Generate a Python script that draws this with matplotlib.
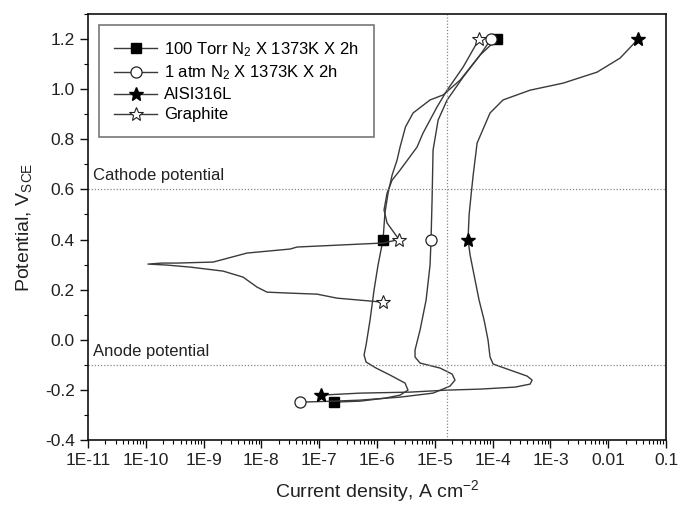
import matplotlib
matplotlib.use("Agg")
import matplotlib.pyplot as plt
from matplotlib.ticker import LogLocator, FixedLocator, MultipleLocator, NullFormatter

plt.rcParams['font.family'] = ['Liberation Sans', 'DejaVu Sans']
plt.rcParams['mathtext.fontset'] = 'custom'
plt.rcParams['mathtext.rm'] = 'Liberation Sans'
plt.rcParams['mathtext.it'] = 'Liberation Sans:italic'

# polarization curves, current density (A cm-2) vs potential (V SCE)
torr_i = [1.80e-7, 5.08e-7, 1.37e-6, 2.50e-6, 3.43e-6, 3.05e-6, 1.68e-6, 9.62e-7, 6.46e-7, 5.96e-7,
          6.46e-7, 7.57e-7, 8.87e-7, 1.04e-6, 1.17e-6, 1.27e-6, 1.37e-6, 1.55e-6, 1.82e-6, 2.22e-6,
          2.50e-6, 3.1e-6, 4.20e-6, 8.26e-6, 1.39e-5, 2.73e-5, 6.05e-5, 1.19e-4]
torr_v = [-0.249, -0.245, -0.233, -0.221, -0.201, -0.173, -0.141, -0.113, -0.089, -0.061,
          -0.021, 0.079, 0.198, 0.298, 0.358, 0.40, 0.506, 0.585, 0.657, 0.717,
          0.769, 0.849, 0.905, 0.957, 0.977, 1.036, 1.136, 1.2]

atm_i = [4.66e-8, 1.80e-7, 5.08e-7, 2.50e-6, 9.31e-6, 1.83e-5, 2.23e-5, 1.99e-5, 1.23e-5, 5.55e-6,
         4.54e-6, 4.54e-6, 5.55e-6, 7.05e-6, 8.26e-6, 8.59e-6, 8.95e-6, 9.31e-6, 1.14e-5, 1.63e-5,
         3.08e-5, 6.05e-5, 9.37e-5]
atm_v = [-0.249, -0.245, -0.241, -0.229, -0.213, -0.185, -0.161, -0.137, -0.113, -0.093,
         -0.069, -0.041, 0.039, 0.158, 0.298, 0.40, 0.558, 0.757, 0.877, 0.957,
         1.048, 1.136, 1.2]

ss_i = [1.07e-7, 5.08e-7, 3.72e-6, 1.63e-5, 6.05e-5, 2.44e-4, 4.44e-4, 4.81e-4, 3.94e-4, 2.00e-4,
        1.02e-4, 9.01e-5, 8.31e-5, 7.10e-5, 5.82e-5, 4.77e-5, 4.07e-5, 3.75e-5, 3.91e-5, 4.23e-5,
        4.6e-5, 5.38e-5, 9.01e-5, 1.51e-4, 4.44e-4, 1.65e-3, 6.40e-3, 0.016, 0.0328]
ss_v = [-0.221, -0.213, -0.209, -0.201, -0.197, -0.189, -0.177, -0.161, -0.145, -0.121,
        -0.097, -0.069, -0.001, 0.079, 0.158, 0.258, 0.338, 0.40, 0.498, 0.577,
        0.657, 0.785, 0.905, 0.957, 0.996, 1.024, 1.068, 1.124, 1.2]

gr_i = [1.27e-6, 5.08e-7, 2.03e-7, 9.16e-8, 3.13e-8, 1.25e-8, 8.40e-9, 4.81e-9, 2.17e-9, 5.82e-10,
        2.33e-10, 1.09e-10, 1.9e-10, 3.47e-10, 1.46e-9, 5.64e-9, 3.13e-8, 4.13e-8, 2.29e-7, 1.27e-6,
        2.40e-6, 1.49e-6, 1.32e-6, 1.49e-6, 1.82e-6, 2.50e-6, 4.92e-6, 6.25e-6, 1.09e-5, 1.63e-5,
        3.08e-5, 5.82e-5]
gr_v = [0.150, 0.158, 0.166, 0.182, 0.186, 0.190, 0.210, 0.250, 0.274, 0.290,
        0.298, 0.302, 0.306, 0.306, 0.310, 0.346, 0.362, 0.370, 0.378, 0.386,
        0.40, 0.466, 0.518, 0.585, 0.637, 0.677, 0.769, 0.825, 0.929, 0.996,
        1.088, 1.2]

labels = ["100 Torr N$_2$ X 1373K X 2h", "1 atm N$_2$ X 1373K X 2h", "AISI316L", "Graphite"]
x_ticks = [1e-11, 1e-10, 1e-9, 1e-8, 1e-7, 1e-6, 1e-5, 1e-4, 1e-3, 1e-2, 1e-1]
x_ticklabels = ["1E-11", "1E-10", "1E-9", "1E-8", "1E-7", "1E-6", "1E-5", "1E-4", "1E-3", "0.01", "0.1"]
cathode_v = 0.6
anode_v = -0.1
i_corr_line = 1.6e-5

fig = plt.figure(figsize=(6.79, 5.09), dpi=100)
ax = fig.add_axes([0.1296, 0.1356, 0.8514, 0.8369])

line_c = '#3a3a3a'
ax.plot(torr_i, torr_v, color=line_c, lw=1.0, marker='s', ms=7, mfc='black', mec='black',
        markevery=[0, 15, len(torr_i) - 1], label=labels[0])
ax.plot(atm_i, atm_v, color=line_c, lw=1.0, marker='o', ms=8, mfc='white', mec='#222222', mew=0.9,
        markevery=[0, 15, len(atm_i) - 1], label=labels[1])
ax.plot(ss_i, ss_v, color=line_c, lw=1.0, marker='*', ms=10, mfc='black', mec='black',
        markevery=[0, 17, len(ss_i) - 1], label=labels[2])
ax.plot(gr_i, gr_v, color=line_c, lw=1.0, marker='*', ms=10, mfc='white', mec='#222222', mew=0.8,
        markevery=[0, 20, len(gr_i) - 1], label=labels[3])

dot_c = '#888888'
ax.axhline(cathode_v, color=dot_c, lw=0.9, ls=(0, (1, 1.5)))
ax.axhline(anode_v, color=dot_c, lw=0.9, ls=(0, (1, 1.5)))
ax.axvline(i_corr_line, color=dot_c, lw=0.9, ls=(0, (1, 1.5)))

ax.text(1.2e-11, cathode_v + 0.025, "Cathode potential", fontsize=12, color='#222222', va='bottom')
ax.text(1.2e-11, anode_v + 0.025, "Anode potential", fontsize=12, color='#222222', va='bottom')

ax.set_xscale('log')
ax.set_xlim(1e-11, 1e-1)
ax.set_ylim(-0.4, 1.3)
ax.xaxis.set_major_locator(FixedLocator(x_ticks))
ax.set_xticklabels(x_ticklabels)
ax.xaxis.set_minor_locator(LogLocator(base=10, subs=range(2, 10), numticks=20))
ax.xaxis.set_minor_formatter(NullFormatter())
ax.yaxis.set_major_locator(FixedLocator([-0.4, -0.2, 0.0, 0.2, 0.4, 0.6, 0.8, 1.0, 1.2]))
ax.yaxis.set_major_formatter(matplotlib.ticker.FormatStrFormatter('%.1f'))
ax.yaxis.set_minor_locator(MultipleLocator(0.1))

ax.tick_params(which='major', direction='out', length=6, width=1.0, labelsize=12.5, colors='#111111',
               labelcolor='#222222', top=False, right=False)
ax.tick_params(which='minor', direction='out', length=3, width=0.8, top=False, right=False)
for s in ax.spines.values():
    s.set_linewidth(1.2)
    s.set_color('#111111')

ax.set_xlabel("Current density, A cm$^{-2}$", fontsize=14, color='#222222', labelpad=7)
ax.set_ylabel("Potential, V$_{\\mathrm{SCE}}$", fontsize=14, color='#222222', labelpad=8)

leg = ax.legend(loc='upper left', bbox_to_anchor=(0.019, 0.974), borderaxespad=0, fontsize=12,
                frameon=True, fancybox=False, edgecolor='#555555', handlelength=2.6, borderpad=0.9,
                labelspacing=0.3, handletextpad=0.4)
leg.get_frame().set_linewidth(1.2)

fig.savefig("out.png", dpi=100)
